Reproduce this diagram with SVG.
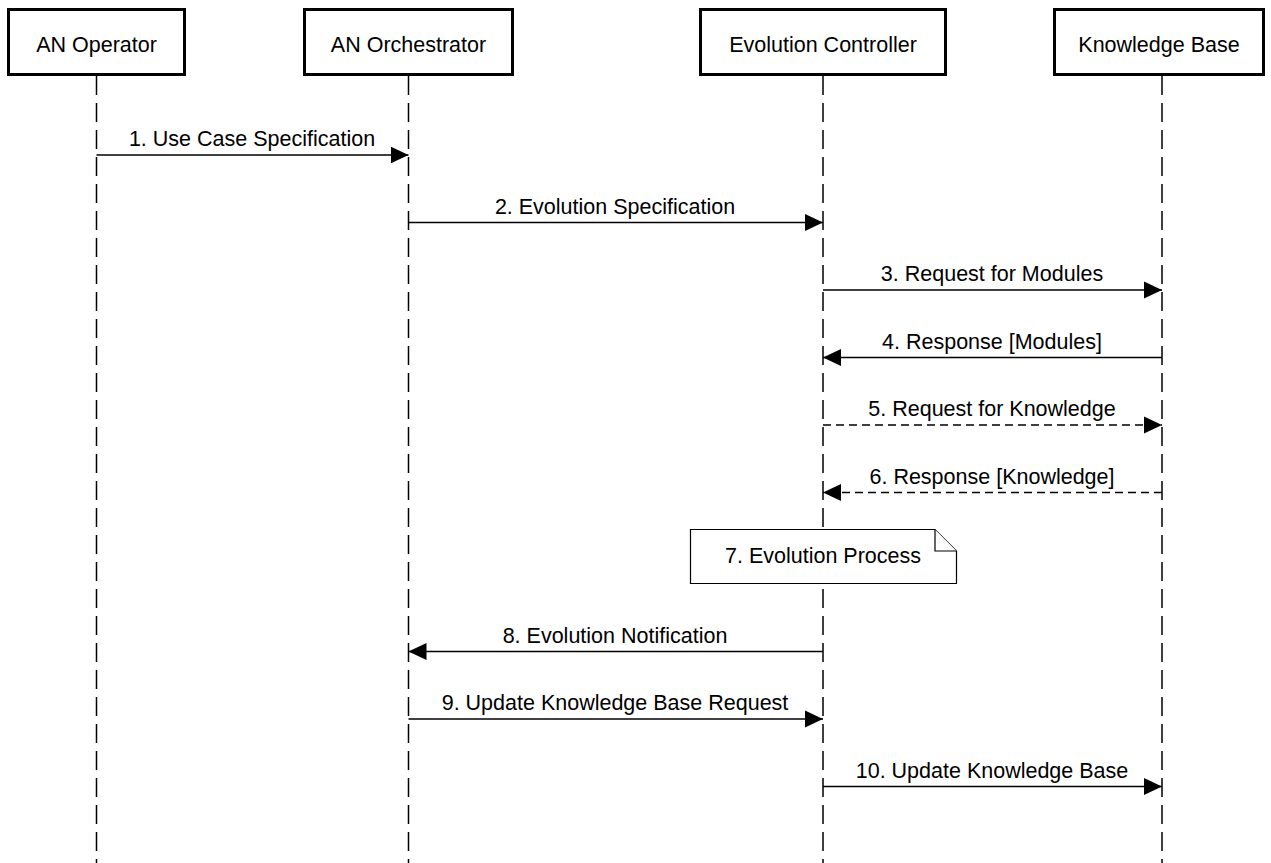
<svg xmlns="http://www.w3.org/2000/svg" width="1271" height="863" viewBox="0 0 1271 863">
  <style>
    .actor rect { fill: #fff; stroke: #000; stroke-width: 3; }
    .lbl { font-family: "Liberation Sans", Arial, sans-serif; font-size: 21.5px; fill: #000; text-anchor: middle; }
    .life { stroke: #000; stroke-width: 1.5; stroke-dasharray: 19 8; fill: none; }
    .msg { stroke: #000; stroke-width: 1.5; fill: none; }
    .dash { stroke-dasharray: 8 5; }
    .note { fill: #fff; stroke: #000; stroke-width: 1.2; }
  </style>
  <defs>
    <marker id="ah" viewBox="0 0 18 18" refX="18" refY="9" markerWidth="18" markerHeight="18" markerUnits="userSpaceOnUse" orient="auto">
      <path d="M0,0.5 L18,9 L0,17.5 Z" fill="#000"/>
    </marker>
  </defs>

  <!-- lifelines -->
  <g id="lifelines">
    <line class="life" x1="96.5" y1="76" x2="96.5" y2="863"/>
    <line class="life" x1="408.5" y1="76" x2="408.5" y2="863"/>
    <line class="life" x1="823" y1="76" x2="823" y2="863"/>
    <line class="life" x1="1162" y1="76" x2="1162" y2="863"/>
  </g>

  <g id="actor-operator" class="actor">
    <rect x="8.5" y="9.5" width="176" height="65"/>
    <text class="lbl" x="96.5" y="52">AN Operator</text>
  </g>
  <g id="actor-orchestrator" class="actor">
    <rect x="304.5" y="9.5" width="208" height="65"/>
    <text class="lbl" x="408.5" y="52">AN Orchestrator</text>
  </g>
  <g id="actor-controller" class="actor">
    <rect x="700.5" y="9.5" width="245" height="65"/>
    <text class="lbl" x="823" y="52">Evolution Controller</text>
  </g>
  <g id="actor-kb" class="actor">
    <rect x="1054.5" y="9.5" width="209" height="65"/>
    <text class="lbl" x="1159" y="52">Knowledge Base</text>
  </g>

  <!-- messages -->
  <g id="connectors">
    <line class="msg" x1="96.5" y1="155" x2="408.5" y2="155" marker-end="url(#ah)"/>
    <text class="lbl" x="252" y="146">1. Use Case Specification</text>

    <line class="msg" x1="408.5" y1="222.5" x2="823" y2="222.5" marker-end="url(#ah)"/>
    <text class="lbl" x="615" y="213.5">2. Evolution Specification</text>

    <line class="msg" x1="823" y1="290" x2="1162" y2="290" marker-end="url(#ah)"/>
    <text class="lbl" x="992" y="281">3. Request for Modules</text>

    <line class="msg" x1="1162" y1="357.5" x2="823" y2="357.5" marker-end="url(#ah)"/>
    <text class="lbl" x="992" y="348.5">4. Response [Modules]</text>

    <line class="msg dash" x1="823" y1="425" x2="1162" y2="425" marker-end="url(#ah)"/>
    <text class="lbl" x="992" y="416">5. Request for Knowledge</text>

    <line class="msg dash" x1="1162" y1="492.5" x2="823" y2="492.5" marker-end="url(#ah)"/>
    <text class="lbl" x="992" y="483.5">6. Response [Knowledge]</text>

    <line class="msg" x1="823" y1="651.5" x2="408.5" y2="651.5" marker-end="url(#ah)"/>
    <text class="lbl" x="615" y="642.5">8. Evolution Notification</text>

    <line class="msg" x1="408.5" y1="719" x2="823" y2="719" marker-end="url(#ah)"/>
    <text class="lbl" x="615" y="710">9. Update Knowledge Base Request</text>

    <line class="msg" x1="823" y1="786.5" x2="1162" y2="786.5" marker-end="url(#ah)"/>
    <text class="lbl" x="992" y="777.5">10. Update Knowledge Base</text>
  </g>

  <g id="note-evolution">
    <path class="note" d="M690.5,529.5 H935 L956.5,551 V583.5 H690.5 Z"/>
    <path class="note" d="M935,529.5 V551 H956.5" fill="none"/>
    <text class="lbl" x="823" y="563">7. Evolution Process</text>
  </g>
</svg>
